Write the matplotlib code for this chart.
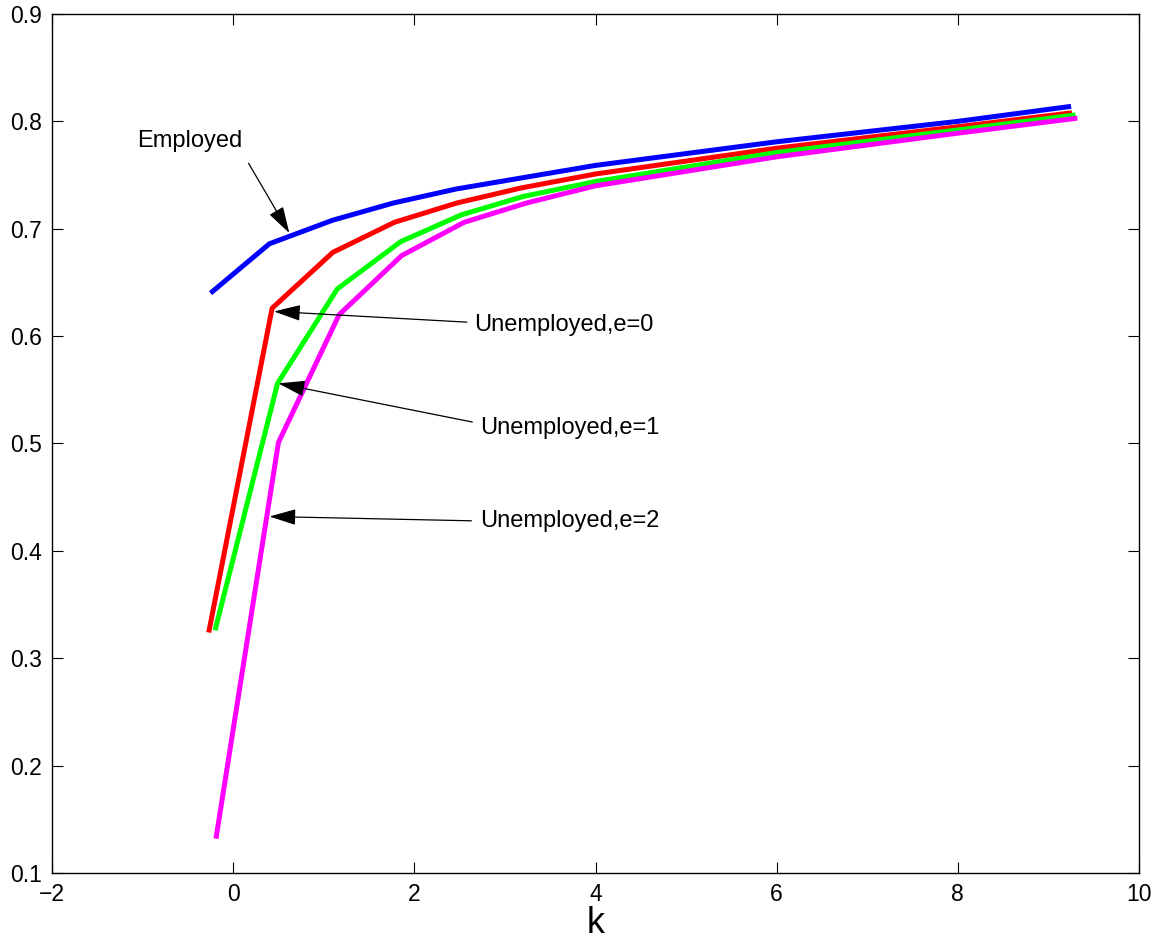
import matplotlib
matplotlib.use("Agg")
import matplotlib.pyplot as plt

plt.rcParams['font.family'] = ['Liberation Sans', 'DejaVu Sans']

k_emp = [-0.25, 0.40, 1.10, 1.77, 2.46, 3.16, 4.0, 6.0, 8.0, 9.25]
v_emp = [0.640, 0.686, 0.708, 0.724, 0.737, 0.747, 0.759, 0.781, 0.800, 0.814]

k_u0 = [-0.27, 0.43, 1.10, 1.78, 2.47, 3.18, 4.0, 6.0, 8.0, 9.26]
v_u0 = [0.324, 0.626, 0.678, 0.706, 0.724, 0.738, 0.751, 0.775, 0.795, 0.808]

k_u1 = [-0.20, 0.49, 1.15, 1.85, 2.52, 3.20, 4.0, 6.0, 8.0, 9.30]
v_u1 = [0.326, 0.556, 0.644, 0.688, 0.713, 0.730, 0.744, 0.771, 0.792, 0.806]

k_u2 = [-0.19, 0.50, 1.17, 1.86, 2.55, 3.24, 4.0, 6.0, 8.0, 9.32]
v_u2 = [0.132, 0.501, 0.620, 0.675, 0.706, 0.724, 0.740, 0.767, 0.789, 0.803]

x_ticks = [-2, 0, 2, 4, 6, 8, 10]
y_ticks = [0.1, 0.2, 0.3, 0.4, 0.5, 0.6, 0.7, 0.8, 0.9]

labels = ['Employed', 'Unemployed,e=0', 'Unemployed,e=1', 'Unemployed,e=2']

fig = plt.figure(figsize=(11.62, 9.47), dpi=100)
ax = fig.add_axes([52/1162, 1-873/947, (1139-52)/1162, (873-14)/947])

lw = 3.6
ax.plot(k_emp, v_emp, color='#0000ff', lw=lw, solid_capstyle='butt')
ax.plot(k_u0, v_u0, color='#ff0000', lw=lw, solid_capstyle='butt')
ax.plot(k_u1, v_u1, color='#00ff00', lw=lw, solid_capstyle='butt')
ax.plot(k_u2, v_u2, color='#ff00ff', lw=lw, solid_capstyle='butt')

ax.set_xlim(-2, 10)
ax.set_ylim(0.1, 0.9)
ax.set_xticks(x_ticks)
ax.set_yticks(y_ticks)
ax.set_xticklabels(['\u22122', '0', '2', '4', '6', '8', '10'])
ax.set_yticklabels([f'{t:.1f}' for t in y_ticks])
ax.tick_params(direction='in', length=8, width=0.8, top=True, right=True,
               labelsize=16.5, pad=7, colors='black')
for s in ax.spines.values():
    s.set_linewidth(1.0)
ax.set_xlabel('k', fontsize=26, labelpad=0)

arrow = dict(arrowstyle='-|>,head_length=1.1,head_width=0.33', color='black',
             lw=0.9, mutation_scale=15, shrinkA=0, shrinkB=0)

ax.text(-0.48, 0.782, labels[0], fontsize=17, ha='center', va='center')
ax.annotate('', xy=(0.62, 0.696), xytext=(0.17, 0.761), arrowprops=arrow)

ax.text(2.66, 0.610, labels[1], fontsize=17, ha='left', va='center')
ax.annotate('', xy=(0.45, 0.623), xytext=(2.58, 0.613), arrowprops=arrow)

ax.text(2.73, 0.514, labels[2], fontsize=17, ha='left', va='center')
ax.annotate('', xy=(0.50, 0.556), xytext=(2.64, 0.520), arrowprops=arrow)

ax.text(2.73, 0.428, labels[3], fontsize=17, ha='left', va='center')
ax.annotate('', xy=(0.40, 0.432), xytext=(2.63, 0.428), arrowprops=arrow)

fig.savefig('out.png', dpi=100)
